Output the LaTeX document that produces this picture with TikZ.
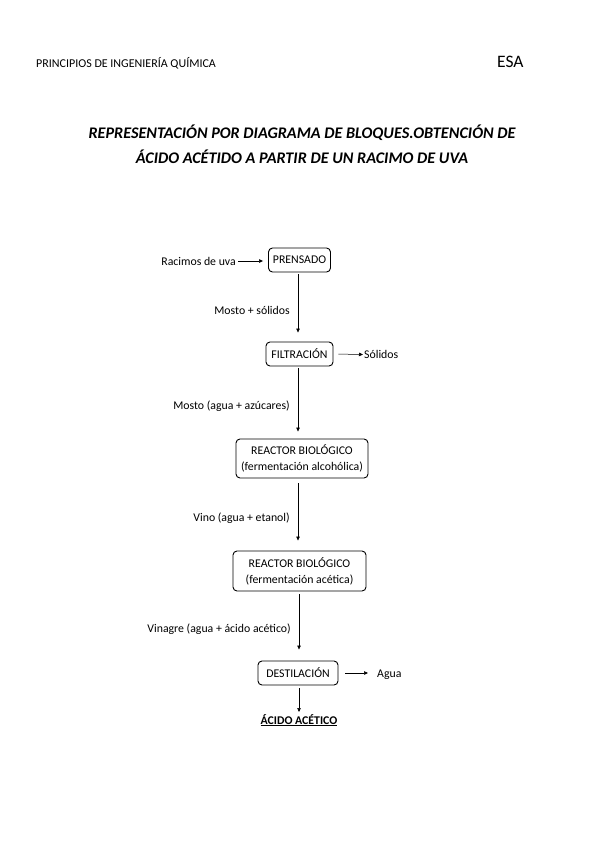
\documentclass[tikz,border=0pt]{standalone}
\usepackage{fontspec}
\setmainfont{Carlito}
\usetikzlibrary{arrows.meta,positioning}

\tikzset{
    bloque/.style={draw, line width=0.9pt, rounded corners=4pt, inner sep=1pt, font=\fontsize{11.8}{14}\selectfont},
    bloquedoble/.style={bloque, align=center, font=\fontsize{11.8}{16}\selectfont},
    flujo/.style={-{Triangle[length=4pt,width=3.5pt]}, line width=0.5pt},
    texto/.style={font=\fontsize{11.8}{14}\selectfont, inner sep=1pt}
}

\begin{document}
\begin{tikzpicture}[x=1pt,y=-1pt]
    % Page size
    \useasboundingbox (0,0) rectangle (599,848);

    % Header
    \node[anchor=west, font=\fontsize{12}{14}\selectfont, inner sep=0pt] (cabecera) at (36,63) {PRINCIPIOS DE INGENIERÍA QUÍMICA};
    \node[anchor=west, font=\fontsize{17.5}{20}\selectfont, inner sep=0pt] (esa) at (497,62) {ESA};

    % Title
    \node[font=\fontsize{16.2}{25}\selectfont\bfseries\itshape, align=center] (titulo) at (302,144.5)
        {REPRESENTACIÓN POR DIAGRAMA DE BLOQUES.OBTENCIÓN DE\\ÁCIDO ACÉTIDO A PARTIR DE UN RACIMO DE UVA};

    % Blocks
    \node[bloque, minimum width=62pt, minimum height=24pt] (prensado) at (299.5,260) {PRENSADO};
    \node[bloque, minimum width=67pt, minimum height=24pt] (filtracion) at (299.5,354) {FILTRACIÓN};
    \node[bloquedoble, minimum width=132pt, minimum height=39pt] (reactorA) at (302,458.5) {REACTOR BIOLÓGICO\\(fermentación alcohólica)};
    \node[bloquedoble, minimum width=133pt, minimum height=40pt] (reactorB) at (299.5,571) {REACTOR BIOLÓGICO\\(fermentación acética)};
    \node[bloque, minimum width=80pt, minimum height=24pt] (destilacion) at (298,673) {DESTILACIÓN};

    % Inputs and outputs
    \node[texto, anchor=east] (racimos) at (237,261) {Racimos de uva};
    \node[texto, anchor=west] (solidos) at (363,354.5) {Sólidos};
    \node[texto, anchor=west] (agua) at (376,674.5) {Agua};
    \node[texto, anchor=north, font=\fontsize{11.8}{14}\selectfont\bfseries] (acido) at (299,713) {\underline{ÁCIDO ACÉTICO}};

    % Side streams
    \draw[flujo, shorten <=1pt, shorten >=5pt] (racimos.east) -- (prensado.west |- racimos.east);
    \draw[flujo, shorten <=5pt] (filtracion.east) -- (solidos.west);
    \draw[flujo, shorten <=7pt, shorten >=8pt] (destilacion.east) -- (agua.west |- destilacion.east);

    % Main line
    \draw[flujo, shorten <=2pt, shorten >=9pt] (298,272) coordinate (p1) (p1) -- (p1 |- filtracion.north)
        node[texto, pos=0.55, left=7pt] (m1) {Mosto + sólidos};
    \draw[flujo, shorten <=2pt, shorten >=7pt] (298,366) coordinate (p2) (p2) -- (p2 |- reactorA.north)
        node[texto, pos=0.55, left=7pt] (m2) {Mosto (agua + azúcares)};
    \draw[flujo, shorten <=5pt, shorten >=10pt] (298,478) coordinate (p3) (p3) -- (p3 |- reactorB.north)
        node[texto, pos=0.55, left=7pt] (m3) {Vino (agua + etanol)};
    \draw[flujo, shorten <=3pt, shorten >=11pt] (299,591) coordinate (p4) (p4) -- (p4 |- destilacion.north)
        node[texto, pos=0.55, left=7pt] (m4) {Vinagre (agua + ácido acético)};
    \draw[flujo, shorten <=3pt, shorten >=1pt] (destilacion.south -| acido.north) -- (acido.north);
\end{tikzpicture}
\end{document}
